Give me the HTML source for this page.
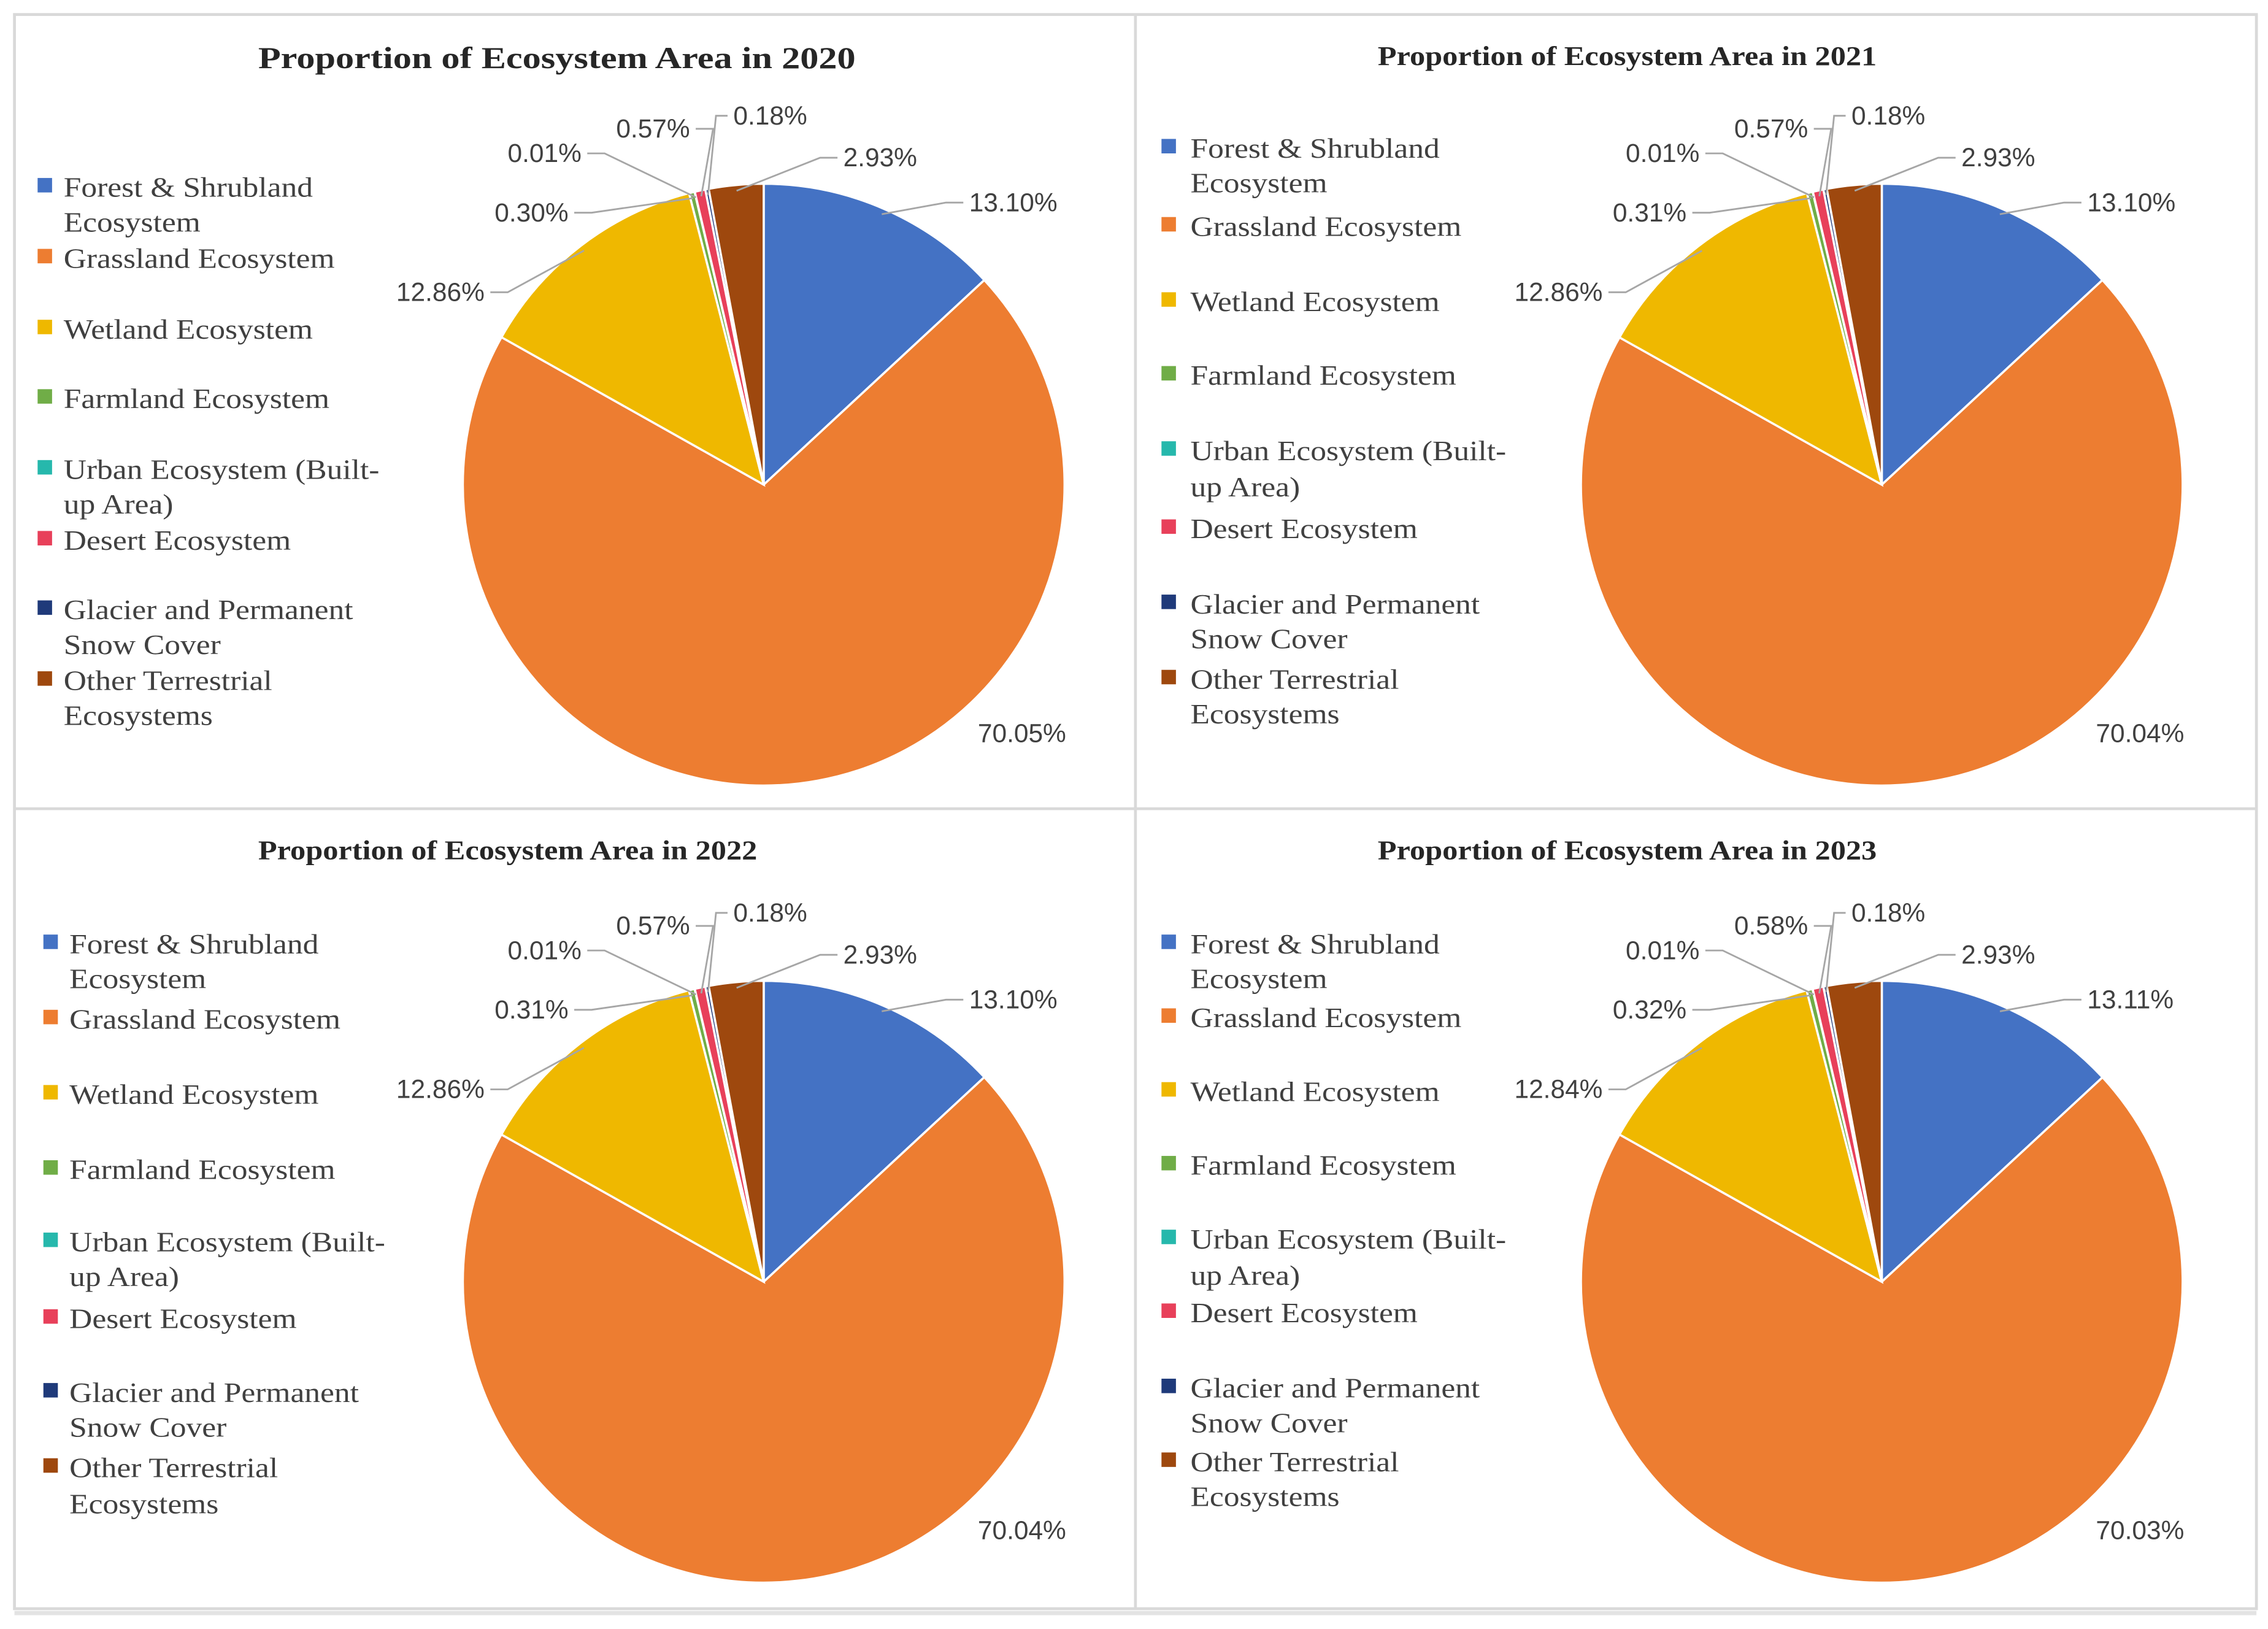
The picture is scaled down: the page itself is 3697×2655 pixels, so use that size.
<!DOCTYPE html>
<html><head><meta charset="utf-8"><style>
html,body{margin:0;padding:0;background:#fff;}
svg{display:block;}
.t{font-family:"Liberation Serif",serif;font-weight:bold;fill:#262626;}
.lg{font-family:"Liberation Serif",serif;fill:#404040;font-size:19.5px;}
.dl{font-family:"Liberation Sans Narrow","Liberation Sans",sans-serif;fill:#404040;font-size:18px;}
</style></head><body>
<svg id="chart" width="3697" height="2655" viewBox="0 0 1568 1126" xmlns="http://www.w3.org/2000/svg">
<rect x="10" y="10" width="1550" height="1102" fill="#fff" stroke="#d9d9d9" stroke-width="2"/>
<line x1="10" y1="1115" x2="1560" y2="1115" stroke="#e3e3e3" stroke-width="3"/>
<line x1="785" y1="10" x2="785" y2="1112" stroke="#d9d9d9" stroke-width="2"/>
<line x1="10" y1="559" x2="1560" y2="559" stroke="#d9d9d9" stroke-width="2"/>
<g id="root"></g>
</svg>
<script>
const categories = ["Forest & Shrubland Ecosystem","Grassland Ecosystem","Wetland Ecosystem","Farmland Ecosystem","Urban Ecosystem (Built-up Area)","Desert Ecosystem","Glacier and Permanent Snow Cover","Other Terrestrial Ecosystems"];
const years = ["2020","2021","2022","2023"];
const values2020 = [13.10,70.05,12.86,0.30,0.01,0.57,0.18,2.93];
const values2021 = [13.10,70.04,12.86,0.31,0.01,0.57,0.18,2.93];
const values2022 = [13.10,70.04,12.86,0.31,0.01,0.57,0.18,2.93];
const values2023 = [13.11,70.03,12.84,0.32,0.01,0.58,0.18,2.93];
const seriesList = [values2020,values2021,values2022,values2023];

const colors = ["#4472C4","#ED7D31","#EFB800","#70AD47","#26B8AC","#E8405A","#1F3A7A","#9E480E"];
const NS="http://www.w3.org/2000/svg";
const root=document.getElementById('root');
function mk(tag,attrs,parent){const e=document.createElementNS(NS,tag);for(const k in attrs)e.setAttribute(k,attrs[k]);(parent||root).appendChild(e);return e;}

const panels=[
 {cx:528,cy:335,tx:385,ty:47,ts:21,tw:413,mx:31,lx:44,ly:[[130,154],[179],[228],[276],[325,349],[374],[422,446],[471,495]]},
 {cx:1301,cy:335,tx:1125,ty:45,ts:19,tw:345,mx:808,lx:823,ly:[[103,127],[157],[209],[260],[312,337],[366],[418,442],[470,494]]},
 {cx:528,cy:886,tx:351,ty:594,ts:19,tw:345,mx:35,lx:48,ly:[[653,677],[705],[757],[809],[859,883],[912],[963,987],[1015,1040]]},
 {cx:1301,cy:886,tx:1125,ty:594,ts:19,tw:345,mx:808,lx:823,ly:[[653,677],[704],[755],[806],[857,882],[908],[960,984],[1011,1035]]}
];
const legendLines=[["Forest & Shrubland","Ecosystem"],["Grassland Ecosystem"],["Wetland Ecosystem"],["Farmland Ecosystem"],["Urban Ecosystem (Built-","up Area)"],["Desert Ecosystem"],["Glacier and Permanent","Snow Cover"],["Other Terrestrial","Ecosystems"]];
const labelOff=[[142,-195,"start"],[148,172,"start"],[-193,-133,"end"],[-135,-188,"end"],[-126,-229,"end"],[-51,-246,"end"],[-21,-255,"start"],[55,-226,"start"]];
const R=208;

panels.forEach((p,pi)=>{
  const vals=seriesList[pi];
  const g=mk('g',{});
  
  
  const title=mk('text',{x:p.tx,y:p.ty,'text-anchor':'middle',class:'t','font-size':p.ts,textLength:p.tw,lengthAdjust:'spacingAndGlyphs'},g);
  title.textContent='Proportion of Ecosystem Area in '+years[pi];
  
  
  const total=vals.reduce((a,b)=>a+b,0);
  let a0=-Math.PI/2;
  const pt=(a,r)=>[p.cx+r*Math.cos(a),p.cy+r*Math.sin(a)];
  const mids=[];
  vals.forEach((v,i)=>{
    const a1=a0+v/total*2*Math.PI;
    const [x0,y0]=pt(a0,R),[x1,y1]=pt(a1,R);
    const large=(a1-a0)>Math.PI?1:0;
    const s=mk('path',{d:`M${p.cx},${p.cy}L${x0},${y0}A${R},${R} 0 ${large} 1 ${x1},${y1}Z`,fill:colors[i],stroke:'#fff','stroke-width':1.5},g);
    
    
    mids.push((a0+a1)/2);
    a0=a1;
  });
  vals.forEach((v,i)=>{
    const o=labelOff[i];
    const lx=p.cx+o[0], ly=p.cy+o[1];
    const t=mk('text',{x:lx,y:ly+6,'text-anchor':o[2],class:'dl'},g);
    t.textContent=v.toFixed(2)+'%';
    
    
    if(i===1) return;
    const [ex,ey]=pt(mids[i],R-4);
    let hx=o[2]==='start'?lx-4:lx+4;
    let hx2=o[2]==='start'?hx-12:hx+12;
    let d;
    if(i===6){d=`M${hx},${ly}L${hx-8},${ly}L${ex},${ey}`;}
    else d=`M${hx},${ly}L${hx2},${ly}L${ex},${ey}`;
    const l=mk('path',{d:d,fill:'none',stroke:'#a6a6a6','stroke-width':1.2},g);
    
    
  });
  categories.forEach((c,i)=>{
    const ys=p.ly[i];
    const m=mk('rect',{x:p.mx-5,y:ys[0]-7,width:10,height:10,fill:colors[i]},g);
    
    
    legendLines[i].forEach((ln,k)=>{
      const t=mk('text',{x:p.lx,y:ys[k]+6,class:'lg'},g);
      t.textContent=ln;
      
      
      const w=t.getComputedTextLength();
      if(w>0){t.setAttribute('textLength',(w*1.12).toFixed(1));t.setAttribute('lengthAdjust','spacingAndGlyphs');}
    });
  });
});
</script>
</body></html>
